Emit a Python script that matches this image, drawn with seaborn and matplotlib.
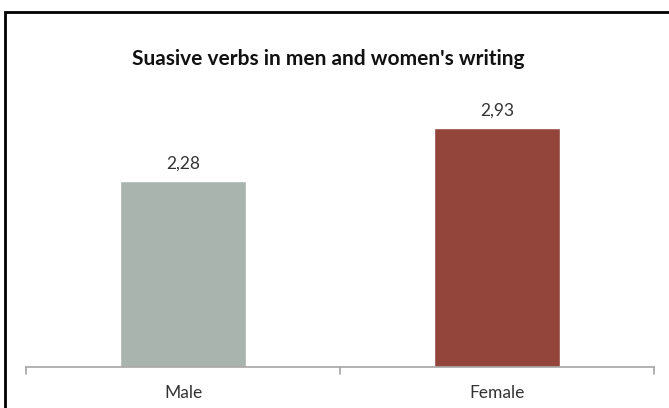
import matplotlib
matplotlib.use("Agg")
import matplotlib.pyplot as plt
import seaborn as sns
import pandas as pd
from matplotlib.patches import Rectangle

categories = ["Male", "Female"]
values = [2.28, 2.93]
value_labels = ["2,28", "2,93"]
colors = ["#AAB4AE", "#93453B"]
title = "Suasive verbs in men and women's writing"

sns.set_theme(style="white")
plt.rcParams['font.family'] = ['Lato', 'DejaVu Sans']

df = pd.DataFrame({"gender": categories, "value": values})

W, H = 669, 408
fig = plt.figure(figsize=(W / 100, H / 100), dpi=100)
ax = fig.add_axes([26 / W, 1 - 367 / H, 628 / W, (367 - 81) / H])

sns.barplot(data=df, x="gender", y="value", hue="gender", palette=colors,
            width=0.4, ax=ax, legend=False, saturation=1)

ax.set_ylim(0, 3.5)
ax.set_xlim(-0.5, 1.5)
ax.set_yticks([])
ax.set_xlabel("")
ax.set_ylabel("")
for s in ["top", "right", "left"]:
    ax.spines[s].set_visible(False)
ax.spines["bottom"].set_color("#A6A6A6")
ax.spines["bottom"].set_linewidth(1.2)

ax.set_xticks([0, 1])
ax.set_xticklabels(categories, fontsize=12.5, color="#333333")
ax.tick_params(axis="x", length=0, pad=13)
for xb in [-0.5, 0.5, 1.5]:
    ax.plot([xb, xb], [0, -0.08], color="#A6A6A6", lw=1.2, clip_on=False)

for i, (v, lab) in enumerate(zip(values, value_labels)):
    ax.text(i, v + 0.11, lab, ha="center", va="bottom", fontsize=12.5, color="#333333")

fig.text(328 / W, 1 - 59 / H, title, ha="center", va="center",
         fontsize=15, fontweight="bold", color="#111111")

fig.patches.append(Rectangle((5 / W, -0.1), 2, 1 - 12 / H + 0.1,
                             transform=fig.transFigure, fill=False,
                             edgecolor="black", lw=2))

fig.savefig("out.png", dpi=100)
